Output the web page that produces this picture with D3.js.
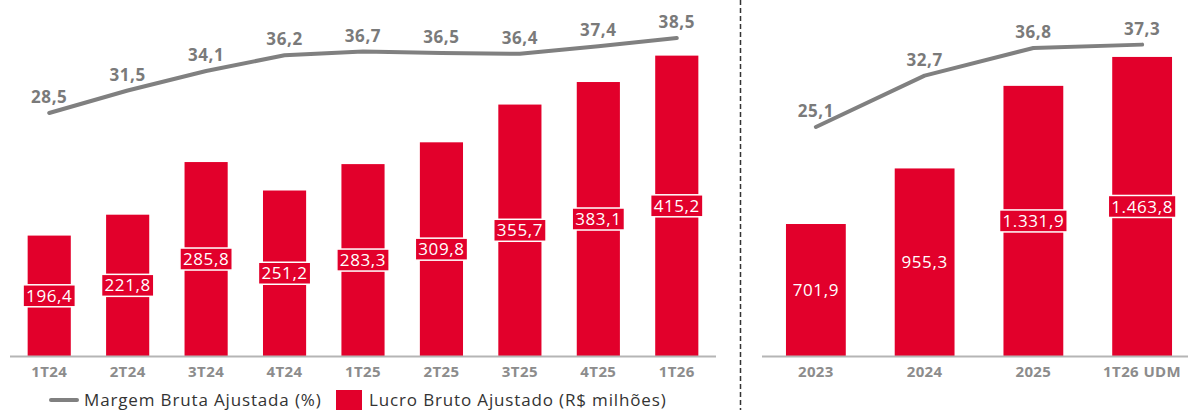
<!DOCTYPE html>
<html lang="pt-BR">
  <head>
    <meta charset="UTF-8" />
    <script src="https://d3js.org/d3.v7.min.js"></script>
    <title>Lucro Bruto Ajustado</title>
    <style>
      body { margin: 0; background: #fff; }
      svg { display: block; font-family: "Open Sans", Lato, sans-serif; }
    </style>
  </head>
  <body>
    <svg id="chart" width="1188" height="410"></svg>
    <script>
      // trimestres
      const quarters = ["1T24", "2T24", "3T24", "4T24", "1T25", "2T25", "3T25", "4T25", "1T26"];
      const quarterProfit = [196.4, 221.8, 285.8, 251.2, 283.3, 309.8, 355.7, 383.1, 415.2];
      const quarterMargin = [28.5, 31.5, 34.1, 36.2, 36.7, 36.5, 36.4, 37.4, 38.5];

      // anos
      const years = ["2023", "2024", "2025", "1T26 UDM"];
      const yearProfit = [701.9, 955.3, 1331.9, 1463.8];
      const yearMargin = [25.1, 32.7, 36.8, 37.3];

      const legendLabels = ["Margem Bruta Ajustada (%)", "Lucro Bruto Ajustado (R$ milhões)"];

      const RED = "#e2002b";
      const GREY_LINE = "#808080";

      const br = d3.formatLocale({ decimal: ",", thousands: ".", grouping: [3], currency: ["R$", ""] });
      const fmt = br.format(",.1f");

      const svg = d3.select("#chart");

      const drawPanel = (cfg) => {
        const g = svg.append("g");
        const rows = cfg.cats.map((c, i) => ({ cat: c, profit: cfg.profit[i], margin: cfg.margin[i] }));

        const x = d3.scaleBand().domain(cfg.cats).range(cfg.xRange).paddingInner(0.45).paddingOuter(0.225);
        const y = d3.scaleLinear().domain(cfg.yDomain).range([356, cfg.yTop]);
        const m = d3.scaleLinear().domain([0, 40]).range(cfg.mRange);

        // barras
        g.selectAll("rect.bar")
          .data(rows)
          .join("rect")
          .attr("class", "bar")
          .attr("x", (d) => x(d.cat))
          .attr("width", x.bandwidth())
          .attr("y", (d) => y(d.profit))
          .attr("height", (d) => y(cfg.yDomain[0]) - y(d.profit))
          .attr("fill", RED);

        // eixo
        g.append("line")
          .attr("x1", cfg.axisX[0]).attr("x2", cfg.axisX[1])
          .attr("y1", 356.5).attr("y2", 356.5)
          .attr("stroke", "#b5b5b5").attr("stroke-width", 2);

        g.selectAll("text.cat")
          .data(rows)
          .join("text")
          .attr("class", "cat")
          .attr("x", (d) => x(d.cat) + x.bandwidth() / 2)
          .attr("y", 377)
          .attr("text-anchor", "middle")
          .attr("font-size", 15)
          .attr("font-weight", 700)
          .attr("letter-spacing", 0.4)
          .attr("fill", "#8c8c8c")
          .text((d) => d.cat);

        // rótulos de valor (caixa quando o texto é mais largo que a barra)
        const vl = g.selectAll("g.val")
          .data(rows)
          .join("g")
          .attr("class", "val")
          .attr("transform", (d) => `translate(${x(d.cat) + x.bandwidth() / 2},${(y(d.profit) + 356) / 2})`);

        vl.append("text")
          .attr("text-anchor", "middle")
          .attr("dy", "0.36em")
          .attr("font-size", 17)
          .attr("letter-spacing", 0.6)
          .attr("fill", "#fff")
          .text((d) => fmt(d.profit));

        vl.each(function () {
          const t = d3.select(this).select("text");
          const bb = t.node().getBBox();
          if (bb.width > x.bandwidth()) {
            d3.select(this).insert("rect", "text")
              .attr("x", bb.x - 3).attr("y", -11)
              .attr("width", bb.width + 6).attr("height", 22)
              .attr("fill", RED)
              .attr("stroke", "#fff").attr("stroke-width", 1.5);
          }
        });

        // linha da margem
        const line = d3.line()
          .x((d) => x(d.cat) + x.bandwidth() / 2)
          .y((d) => m(d.margin));

        g.append("path")
          .datum(rows)
          .attr("d", line)
          .attr("fill", "none")
          .attr("stroke", GREY_LINE)
          .attr("stroke-width", 4)
          .attr("stroke-linecap", "round")
          .attr("stroke-linejoin", "round");

        g.selectAll("text.mlabel")
          .data(rows)
          .join("text")
          .attr("class", "mlabel")
          .attr("x", (d) => x(d.cat) + x.bandwidth() / 2)
          .attr("y", (d) => m(d.margin) - 10)
          .attr("text-anchor", "middle")
          .attr("font-size", 17)
          .attr("font-weight", 700)
          .attr("letter-spacing", 0.6)
          .attr("fill", "#7a7a7a")
          .text((d) => fmt(d.margin));
      };

      drawPanel({
        cats: quarters, profit: quarterProfit, margin: quarterMargin,
        xRange: [10, 716], axisX: [10, 716],
        yDomain: [50, 450], yTop: 27,
        mRange: [326.75, 26.75],
      });

      drawPanel({
        cats: years, profit: yearProfit, margin: yearMargin,
        xRange: [761.5, 1196.5], axisX: [762, 1188],
        yDomain: [100, 1500], yTop: 49,
        mRange: [296.4, 26.4],
      });

      // divisor tracejado
      svg.append("line")
        .attr("x1", 740.5).attr("x2", 740.5)
        .attr("y1", 0).attr("y2", 410)
        .attr("stroke", "#333").attr("stroke-width", 1.5)
        .attr("stroke-dasharray", "5,3");

      // legenda
      const leg = svg.append("g").attr("transform", "translate(0,400)");
      leg.append("line")
        .attr("x1", 51).attr("x2", 77).attr("y1", 0).attr("y2", 0)
        .attr("stroke", GREY_LINE).attr("stroke-width", 4).attr("stroke-linecap", "round");
      leg.append("text")
        .attr("x", 84).attr("y", 0).attr("dy", "0.36em")
        .attr("font-size", 17).attr("letter-spacing", 0.85).attr("fill", "#333")
        .text(legendLabels[0]);
      leg.append("rect")
        .attr("x", 336).attr("y", -10).attr("width", 26).attr("height", 20)
        .attr("fill", RED);
      leg.append("text")
        .attr("x", 369).attr("y", 0).attr("dy", "0.36em")
        .attr("font-size", 17).attr("letter-spacing", 0.85).attr("fill", "#333")
        .text(legendLabels[1]);
    </script>
  </body>
</html>
